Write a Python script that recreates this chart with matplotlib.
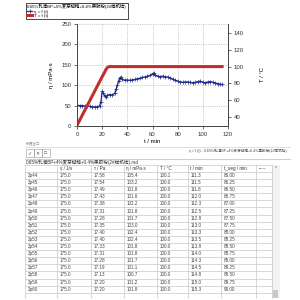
import matplotlib.pyplot as plt
from matplotlib.patches import Rectangle

plt.rcParams['font.family'] = ['Liberation Sans', 'DejaVu Sans', 'Noto Sans CJK SC']

sample = '0.65%乳清BP+4%麦芽糊精+0.4%果胶粉(2#样机检)'

# viscosity curve (left axis)
t_eta = [0, 2, 4, 6, 8, 10, 12, 14, 16, 18, 19, 20, 21, 22, 23, 24, 26, 28, 30, 31,
         32, 33, 34, 35, 36, 38, 40, 42, 44, 46, 48, 50, 52, 54, 56, 58, 60, 61, 62, 64,
         66, 68, 70, 72, 74, 76, 78, 80, 82, 84, 86, 88, 90, 92, 94, 96, 98, 100, 102, 104,
         106, 108, 110, 112, 114, 115.3]
eta = [51, 50, 50, 49, 49, 48, 47, 47, 47, 49, 60, 85, 80, 74, 72, 75, 77, 76, 80, 90,
       100, 110, 118, 120, 114, 112, 113, 112, 113, 114, 116, 117, 119, 120, 122, 124, 128, 130, 125, 122,
       121, 122, 121, 120, 118, 115, 112, 110, 108, 107, 108, 108, 107, 106, 107, 109, 110, 107, 106, 108,
       109, 107, 105, 104, 102, 101.8]

# temperature curve (right axis)
t_temp = [0, 5, 10, 15, 20, 22, 23, 24, 25, 26, 40, 60, 80, 100, 115.3]
temp = [30, 44.5, 59, 73.5, 88, 93.5, 96.5, 98.8, 99.7, 100, 100, 100, 100, 100, 100]

# table rows
points = ['2p44', '2p45', '2p46', '2p47', '2p48', '2p49', '2p50', '2p51', '2p52',
          '2p53', '2p54', '2p55', '2p56', '2p57', '2p58', '2p59', '2p60']
shear = [175.0, 175.0, 175.0, 175.0, 175.0, 175.0, 175.0, 175.0, 175.0,
         175.0, 175.0, 175.0, 175.0, 175.0, 175.0, 175.0, 175.0]
tau = [17.58, 17.54, 17.49, 17.43, 17.38, 17.31, 17.28, 17.35, 17.40,
       17.40, 17.33, 17.31, 17.28, 17.19, 17.13, 17.20, 17.20]
visc = [105.4, 103.2, 101.8, 101.6, 102.2, 101.8, 101.7, 103.0, 102.4,
        102.4, 101.8, 101.8, 101.7, 101.1, 100.7, 101.2, 101.8]
temp_tab = [100.1, 100.0, 100.0, 100.0, 100.0, 100.0, 100.0, 100.0, 100.0,
            100.0, 100.0, 100.0, 100.0, 100.0, 100.0, 100.0, 100.0]
t_tab = [111.3, 111.5, 111.8, 112.0, 112.3, 112.5, 112.8, 113.0, 113.3,
         113.5, 113.8, 114.0, 114.3, 114.5, 114.8, 115.0, 115.3]
tseg = [86.00, 86.25, 86.50, 86.75, 87.00, 87.25, 87.50, 87.75, 88.00,
        88.25, 88.50, 88.75, 89.00, 89.25, 89.50, 89.75, 90.00]
headers = ['', 'γ̇ / 1/s', 'τ / Pa', 'η / mPa·s', 'T / °C', 't / min', 't_seg / min', '-----']

blue = '#1c2a8c'
red = '#c0302a'

fig = plt.figure(figsize=(3, 3), dpi=100)

# screen-like overlay in pixel coordinates
ui = fig.add_axes([0, 0, 1, 1])
ui.set_xlim(0, 300)
ui.set_ylim(300, 0)
ui.axis('off')

ax = fig.add_axes([77 / 300, 1 - 126 / 300, 151 / 300, 102 / 300])
l1, = ax.plot(t_eta, eta, color=blue, lw=0.9, marker='+', ms=2.2, mew=0.5)
ax.set_xlim(0, 120)
ax.set_ylim(0, 250)
ax.set_xticks([0, 20, 40, 60, 80, 100, 120])
ax.set_yticks([0, 50, 100, 150, 200, 250])
ax.grid(True, ls=':', lw=0.5, color='#a0a0a0')
ax.set_xlabel('t / min', fontsize=4.3, labelpad=2)
ax.set_ylabel('η / mPa·s', fontsize=4.3, labelpad=5)
ax.spines['top'].set_visible(False)

ax2 = ax.twinx()
l2, = ax2.plot(t_temp, temp, color=red, lw=2.2)
ax2.set_ylim(29.3, 150.7)
ax2.set_yticks([40, 60, 80, 100, 120, 140])
ax2.set_ylabel('T / °C', fontsize=4.3, labelpad=12)
ax2.spines['top'].set_visible(False)

for a in (ax, ax2):
    a.tick_params(labelsize=4.3, length=2, width=0.5, pad=2, colors='#333333')
    for s in a.spines.values():
        s.set_linewidth(0.6)
        s.set_color('#444444')

l1.set_label('η = f (t)')
l2.set_label('T = f (t)')
leg = fig.legend(handles=[l1, l2], loc='upper left', bbox_to_anchor=(26 / 300, 1 - 3 / 300),
                 title=sample, title_fontsize=3.2, fontsize=3.2, alignment='left',
                 fancybox=False, edgecolor='black', framealpha=1, borderpad=0.25,
                 handlelength=1.2, handletextpad=0.4, labelspacing=0.05, borderaxespad=0)
leg.get_frame().set_linewidth(0.5)

# toolbar strip
ui.text(26, 143, '数据窗口', fontsize=2.6, color='#999999', va='center')
ui.plot([25, 290], [146.5, 146.5], color='#d0d0d0', lw=0.5)
for x0, g in zip([26, 34, 42], ['✓', '✕', '□']):
    ui.add_patch(Rectangle((x0, 149), 7.5, 8, fill=False, ec='#999999', lw=0.4))
    ui.text(x0 + 3.75, 153, g, fontsize=3.5, color='#555555', ha='center', va='center')
ui.text(189, 151, 'η = f (t) - ' + sample, fontsize=2.6, color='#444444', va='center')
ui.plot([25, 290], [159, 159], color='#c8d0dc', lw=0.8)
ui.text(26, 162.5, sample + '.rsd', fontsize=3.3, color='#333333', va='center')

# data table
cols = [25, 57, 91, 124, 157, 188, 221, 256, 272]
top, head_h, row_h, bottom = 165, 7, 7.1, 298
line_c = '#c8c8c8'
for x in cols:
    ui.plot([x, x], [top, bottom], color=line_c, lw=0.5)
ui.plot([cols[0], cols[-1]], [top, top], color=line_c, lw=0.5)
y = top + head_h
for i in range(len(points) + 1):
    ui.plot([cols[0], cols[-1]], [y, y], color=line_c, lw=0.5)
    y += row_h
for j, h in enumerate(headers):
    ui.text(cols[j] + 2.5, top + head_h / 2 + 0.3, h, fontsize=3.3, color='#333333', va='center')
for i in range(len(points)):
    yc = top + head_h + (i + 0.5) * row_h
    cells = [points[i], '%.1f' % shear[i], '%.2f' % tau[i], '%.1f' % visc[i],
             '%.1f' % temp_tab[i], '%.1f' % t_tab[i], '%.2f' % tseg[i]]
    for j, c in enumerate(cells):
        ui.text(cols[j] + 2.5, yc, c, fontsize=3.3, color='#444444', va='center')

# scrollbar
ui.add_patch(Rectangle((272, top), 8, bottom - top, fc='#f3f3f3', ec='none'))
ui.text(276, 169, '^', fontsize=3.5, color='#666666', ha='center', va='center')
ui.add_patch(Rectangle((273, 290), 5, 8, fc='#c8c8c8', ec='none'))

fig.savefig('out.png', dpi=100)
